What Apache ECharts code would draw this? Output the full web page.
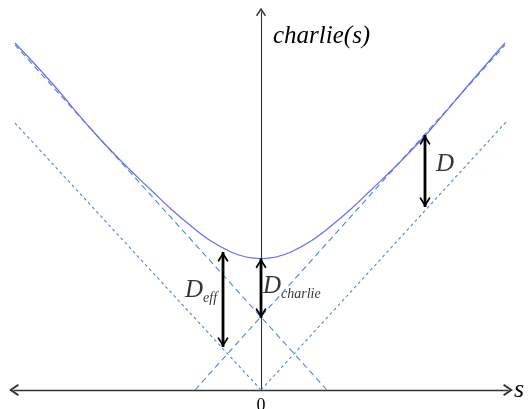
<!DOCTYPE html>
<html>
<head>
<meta charset="utf-8">
<script src="https://cdn.jsdelivr.net/npm/echarts@6/dist/echarts.min.js"></script>
<style>
  html, body { margin: 0; padding: 0; background: #fff; }
  #main { width: 529px; height: 409px; }
</style>
</head>
<body>
<div id="main"></div>
<script>
// curve charlie(s)
const curveS = [-246, -210, -170, -140, -110, -90, -70, -50, -30, -15, 0, 15, 30, 50, 70, 90, 110, 140, 170, 210, 244];
const curveY = [347, 308, 261, 229, 200, 181, 164, 149, 138, 133, 131.5, 133, 138, 149, 164, 181, 200, 229, 261, 308, 347];

// dashed lines: [s1, y1, s2, y2]
const asymLeft = [66, 0, -246, 345];
const asymRight = [-66, 0, 244, 345];
const outerLeft = [0, 0, -247, 268];
const outerRight = [0, 0, 245, 268];

// double arrows
const arrowS = [-38, 0, 164];
const arrowTop = [138, 131.5, 255];
const arrowBottom = [43, 72, 183];

const serif = "Liberation Serif";
const chevron = "path://M0,9 L6,0 L12,9 L10.6,10.2 L6,3.4 L1.4,10.2 Z";

const chart = echarts.init(document.getElementById("main"));

const dashed = (seg, dash) => ({
  type: "line",
  data: [[seg[0], seg[1]], [seg[2], seg[3]]],
  showSymbol: false,
  silent: true,
  lineStyle: { color: "#4f86cc", width: 1.1, type: dash },
});

const arrows = arrowS.map((s, i) => ({
  type: "line",
  data: [
    { value: [s, arrowTop[i]], symbolRotate: 0, symbolOffset: [0, 5] },
    { value: [s, arrowBottom[i]], symbolRotate: 180, symbolOffset: [0, -5] },
  ],
  symbol: chevron,
  symbolSize: [11, 10],
  showSymbol: true,
  itemStyle: { color: "#000" },
  lineStyle: { color: "#000", width: 2.8 },
  z: 5,
}));

const richText = {
  d: { fontFamily: serif, fontStyle: "italic", fontSize: 25, color: "#000" },
  sub: { fontFamily: serif, fontStyle: "italic", fontSize: 14, color: "#000", padding: [16, 0, 0, 0] },
};

chart.setOption({
  animation: false,
  title: {
    text: "charlie(s)",
    left: 268,
    top: 19,
    textStyle: { fontFamily: serif, fontStyle: "italic", fontWeight: "normal", fontSize: 25, color: "#000" },
  },
  grid: { left: 14, right: 21, top: 12, bottom: 19, containLabel: false, outerBoundsMode: "none" },
  xAxis: {
    type: "value",
    min: -247,
    max: 247,
    interval: 247,
    splitLine: { show: false },
    axisTick: { show: false },
    axisLine: {
      lineStyle: { color: "#333", width: 1.3 },
      symbol: [chevron, chevron],
      symbolSize: [12, 10],
    },
    axisLabel: {
      formatter: (v) => (v === 0 ? "0" : ""),
      fontFamily: serif,
      fontSize: 18,
      color: "#000",
      margin: 7,
    },
    name: "s",
    nameGap: 6,
    nameTextStyle: { fontFamily: serif, fontStyle: "italic", fontSize: 26, color: "#000", verticalAlign: "middle" },
  },
  yAxis: {
    type: "value",
    min: 0,
    max: 378,
    splitLine: { show: false },
    axisTick: { show: false },
    axisLabel: { show: false },
    axisLine: {
      lineStyle: { color: "#333", width: 1.1 },
      symbol: ["none", chevron],
      symbolSize: [10, 9],
    },
  },
  series: [
    dashed(outerLeft, [3, 3]),
    dashed(outerRight, [3, 3]),
    dashed(asymLeft, [6, 4]),
    dashed(asymRight, [6, 4]),
    {
      type: "line",
      data: curveS.map((s, i) => [s, curveY[i]]),
      smooth: 0.4,
      showSymbol: false,
      lineStyle: { color: "#6b6bf2", width: 1.2 },
      z: 3,
    },
    ...arrows,
    {
      type: "scatter",
      symbolSize: 0,
      silent: true,
      label: { show: true, position: "right", distance: 0, rich: richText },
      data: [
        { value: [-76, 100], label: { formatter: "{d|D}{sub|eff}" } },
        { value: [2, 104], label: { formatter: "{d|D}{sub|charlie}" } },
        { value: [175, 226], label: { formatter: "{d|D}" } },
      ],
    },
  ],
});
</script>
</body>
</html>
